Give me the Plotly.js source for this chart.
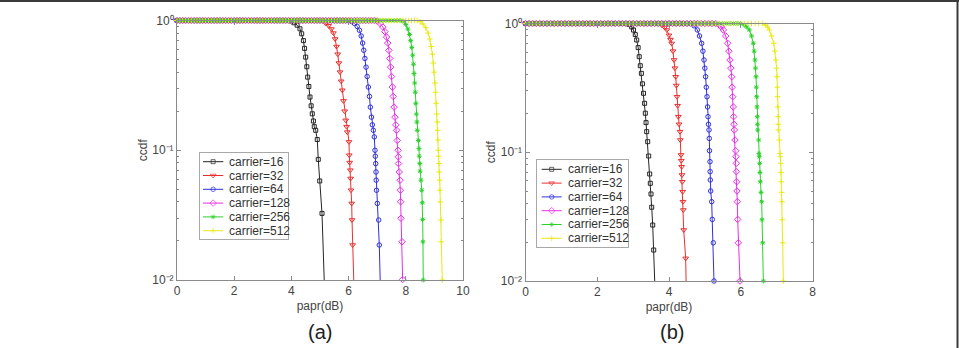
<!DOCTYPE html>
<html>
<head>
<meta charset="utf-8">
<script src="https://cdn.plot.ly/plotly-3.0.1.min.js"></script>
<style>
  html, body { margin: 0; padding: 0; background: #fff; }
  #chart { width: 959px; height: 348px; }
</style>
</head>
<body>
<div id="chart"></div>
<script>
// ---------- panel (a): CCDF of PAPR, papr in dB ----------
const a16x = [
  0,0.1,0.2,0.3,0.4,0.5,0.6,0.7,0.8,0.9,
  1,1.1,1.2,1.3,1.4,1.5,1.6,1.7,1.8,1.9,
  2,2.1,2.2,2.3,2.4,2.5,2.6,2.7,2.8,2.9,
  3,3.1,3.2,3.3,3.4,3.5,3.6,3.7,3.8,3.9,
  4.0,4.1,4.2,4.3,4.36,4.42,4.46,4.50,4.54,4.57,
  4.61,4.65,4.69,4.73,4.77,4.80,4.85,4.905,4.94,4.99,
  5.07,5.2];
const a16y = [
  1,1,1,1,1,1,1,1,1,1,
  1,1,1,1,1,1,1,1,1,1,
  1,1,1,1,1,1,1,1,1,1,
  1,1,1,1,1,1,1,1,1,1,
  0.99,0.96,0.92,0.863,0.79,0.70,0.61,0.522,0.44,0.366,
  0.31,0.257,0.22,0.191,0.168,0.152,0.1425,0.121,0.085,0.058,
  0.0326,0.0045];

const a32x = [
  0,0.1,0.2,0.3,0.4,0.5,0.6,0.7,0.8,0.9,
  1,1.1,1.2,1.3,1.4,1.5,1.6,1.7,1.8,1.9,
  2,2.1,2.2,2.3,2.4,2.5,2.6,2.7,2.8,2.9,
  3,3.1,3.2,3.3,3.4,3.5,3.6,3.7,3.8,3.9,
  4,4.1,4.2,4.3,4.4,4.5,4.6,4.7,4.8,4.9,
  5.0,5.1,5.2,5.3,5.4,5.47,5.53,5.58,5.62,5.66,
  5.70,5.74,5.78,5.82,5.86,5.90,5.93,5.955,6.014,6.024,
  6.038,6.06,6.07,6.084,6.108,6.12,6.14,6.22];
const a32y = [
  1,1,1,1,1,1,1,1,1,1,
  1,1,1,1,1,1,1,1,1,1,
  1,1,1,1,1,1,1,1,1,1,
  1,1,1,1,1,1,1,1,1,1,
  1,1,1,1,1,1,1,1,1,1,
  1,0.985,0.95,0.91,0.86,0.80,0.72,0.63,0.55,0.47,
  0.40,0.34,0.29,0.24,0.20,0.17,0.152,0.138,0.116,0.0916,
  0.0804,0.0702,0.0606,0.0492,0.0389,0.029,0.0186,0.005];

const a64x = [
  0,0.1,0.2,0.3,0.4,0.5,0.6,0.7,0.8,0.9,
  1,1.1,1.2,1.3,1.4,1.5,1.6,1.7,1.8,1.9,
  2,2.1,2.2,2.3,2.4,2.5,2.6,2.7,2.8,2.9,
  3,3.1,3.2,3.3,3.4,3.5,3.6,3.7,3.8,3.9,
  4,4.1,4.2,4.3,4.4,4.5,4.6,4.7,4.8,4.9,
  5,5.1,5.2,5.3,5.4,5.5,5.6,5.7,5.8,5.9,
  6.0,6.1,6.2,6.3,6.38,6.44,6.49,6.53,6.57,6.61,
  6.65,6.69,6.73,6.76,6.80,6.83,6.864,6.899,6.923,6.934,
  6.948,6.958,6.965,6.975,7.004,7.052,7.073,7.14];
const a64y = [
  1,1,1,1,1,1,1,1,1,1,
  1,1,1,1,1,1,1,1,1,1,
  1,1,1,1,1,1,1,1,1,1,
  1,1,1,1,1,1,1,1,1,1,
  1,1,1,1,1,1,1,1,1,1,
  1,1,1,1,1,1,1,1,1,1,
  1,0.985,0.95,0.90,0.84,0.76,0.67,0.59,0.51,0.437,
  0.37,0.307,0.26,0.215,0.18,0.157,0.1425,0.1267,0.1,0.09,
  0.0789,0.068,0.0588,0.0492,0.0389,0.029,0.0186,0.005];

const a128x = [
  0,0.1,0.2,0.3,0.4,0.5,0.6,0.7,0.8,0.9,
  1,1.1,1.2,1.3,1.4,1.5,1.6,1.7,1.8,1.9,
  2,2.1,2.2,2.3,2.4,2.5,2.6,2.7,2.8,2.9,
  3,3.1,3.2,3.3,3.4,3.5,3.6,3.7,3.8,3.9,
  4,4.1,4.2,4.3,4.4,4.5,4.6,4.7,4.8,4.9,
  5,5.1,5.2,5.3,5.4,5.5,5.6,5.7,5.8,5.9,
  6,6.1,6.2,6.3,6.4,6.5,6.6,6.7,6.8,6.9,
  7.0,7.1,7.2,7.27,7.33,7.37,7.41,7.44,7.47,7.50,
  7.53,7.56,7.59,7.62,7.65,7.68,7.70,7.73,7.74,7.745,
  7.77,7.80,7.81,7.82,7.83,7.87,7.89];
const a128y = [
  1,1,1,1,1,1,1,1,1,1,
  1,1,1,1,1,1,1,1,1,1,
  1,1,1,1,1,1,1,1,1,1,
  1,1,1,1,1,1,1,1,1,1,
  1,1,1,1,1,1,1,1,1,1,
  1,1,1,1,1,1,1,1,1,1,
  1,1,1,1,1,1,1,1,1,1,
  0.99,0.95,0.89,0.82,0.745,0.67,0.589,0.51,0.437,0.37,
  0.307,0.26,0.215,0.18,0.157,0.1425,0.119,0.1,0.089,0.079,
  0.068,0.0588,0.0492,0.0401,0.0299,0.0197,0.0101];

const a256x = [
  0,0.1,0.2,0.3,0.4,0.5,0.6,0.7,0.8,0.9,
  1,1.1,1.2,1.3,1.4,1.5,1.6,1.7,1.8,1.9,
  2,2.1,2.2,2.3,2.4,2.5,2.6,2.7,2.8,2.9,
  3,3.1,3.2,3.3,3.4,3.5,3.6,3.7,3.8,3.9,
  4,4.1,4.2,4.3,4.4,4.5,4.6,4.7,4.8,4.9,
  5,5.1,5.2,5.3,5.4,5.5,5.6,5.7,5.8,5.9,
  6,6.1,6.2,6.3,6.4,6.5,6.6,6.7,6.8,6.9,
  7,7.1,7.2,7.3,7.4,7.5,7.6,7.7,7.8,7.9,
  8.0,8.07,8.13,8.17,8.21,8.24,8.27,8.29,8.31,8.33,
  8.35,8.37,8.385,8.40,8.44,8.46,8.47,8.49,8.50,8.53,
  8.56,8.58,8.59,8.60,8.61];
const a256y = [
  1,1,1,1,1,1,1,1,1,1,
  1,1,1,1,1,1,1,1,1,1,
  1,1,1,1,1,1,1,1,1,1,
  1,1,1,1,1,1,1,1,1,1,
  1,1,1,1,1,1,1,1,1,1,
  1,1,1,1,1,1,1,1,1,1,
  1,1,1,1,1,1,1,1,1,1,
  1,1,1,1,1,1,1,1,1,0.985,
  0.93,0.86,0.78,0.70,0.62,0.54,0.46,0.39,0.33,0.28,
  0.23,0.19,0.165,0.1425,0.119,0.103,0.09,0.079,0.069,0.0588,
  0.0492,0.0394,0.0293,0.0197,0.01];

const a512x = [
  0,0.1,0.2,0.3,0.4,0.5,0.6,0.7,0.8,0.9,
  1,1.1,1.2,1.3,1.4,1.5,1.6,1.7,1.8,1.9,
  2,2.1,2.2,2.3,2.4,2.5,2.6,2.7,2.8,2.9,
  3,3.1,3.2,3.3,3.4,3.5,3.6,3.7,3.8,3.9,
  4,4.1,4.2,4.3,4.4,4.5,4.6,4.7,4.8,4.9,
  5,5.1,5.2,5.3,5.4,5.5,5.6,5.7,5.8,5.9,
  6,6.1,6.2,6.3,6.4,6.5,6.6,6.7,6.8,6.9,
  7,7.1,7.2,7.3,7.4,7.5,7.6,7.7,7.8,7.9,
  8,8.1,8.2,8.3,8.4,8.5,8.6,8.7,8.78,8.84,
  8.89,8.93,8.96,8.99,9.02,9.04,9.06,9.08,9.10,9.115,
  9.125,9.136,9.15,9.16,9.17,9.185,9.196,9.207,9.23,9.24,
  9.276];
const a512y = [
  1,1,1,1,1,1,1,1,1,1,
  1,1,1,1,1,1,1,1,1,1,
  1,1,1,1,1,1,1,1,1,1,
  1,1,1,1,1,1,1,1,1,1,
  1,1,1,1,1,1,1,1,1,1,
  1,1,1,1,1,1,1,1,1,1,
  1,1,1,1,1,1,1,1,1,1,
  1,1,1,1,1,1,1,1,1,1,
  1,1,1,1,1,0.98,0.94,0.88,0.80,0.72,
  0.63,0.55,0.47,0.40,0.33,0.28,0.23,0.19,0.165,0.1425,
  0.12,0.1,0.09,0.079,0.068,0.0588,0.0492,0.04,0.029,0.0197,
  0.01];

// ---------- panel (b) ----------
const b16x = [
  0,0.1,0.2,0.3,0.4,0.5,0.6,0.7,0.8,0.9,
  1,1.1,1.2,1.3,1.4,1.5,1.6,1.7,1.8,1.9,
  2,2.1,2.2,2.3,2.4,2.5,2.6,2.7,2.8,2.9,
  2.96,3.01,3.06,3.10,3.14,3.17,3.20,3.23,3.26,3.29,
  3.32,3.34,3.36,3.378,3.406,3.434,3.462,3.479,3.498,3.518,
  3.546,3.574,3.63];
const b16y = [
  1,1,1,1,1,1,1,1,1,1,
  1,1,1,1,1,1,1,1,1,1,
  1,1,1,1,1,1,1,1,1,0.98,
  0.94,0.89,0.82,0.744,0.65,0.552,0.47,0.41,0.34,0.287,
  0.24,0.201,0.17,0.1445,0.1208,0.0935,0.0678,0.0574,0.0474,0.0374,
  0.0272,0.0174,0.006];

const b32x = [
  0,0.1,0.2,0.3,0.4,0.5,0.6,0.7,0.8,0.9,
  1,1.1,1.2,1.3,1.4,1.5,1.6,1.7,1.8,1.9,
  2,2.1,2.2,2.3,2.4,2.5,2.6,2.7,2.8,2.9,
  3,3.1,3.2,3.3,3.4,3.5,3.6,3.7,3.8,3.88,
  3.94,4.0,4.04,4.075,4.11,4.14,4.165,4.187,4.205,4.223,
  4.24,4.26,4.28,4.307,4.315,4.334,4.343,4.354,4.362,4.37,
  4.38,4.39,4.40,4.41,4.465,4.49];
const b32y = [
  1,1,1,1,1,1,1,1,1,1,
  1,1,1,1,1,1,1,1,1,1,
  1,1,1,1,1,1,1,1,1,1,
  1,1,1,1,1,1,1,1,0.97,0.93,
  0.89,0.81,0.75,0.70,0.61,0.521,0.45,0.386,0.33,0.27,
  0.23,0.189,0.165,0.1445,0.1245,0.0953,0.086,0.0772,0.0666,0.059,
  0.0494,0.0413,0.0356,0.0249,0.015,0.006];

const b64x = [
  0,0.1,0.2,0.3,0.4,0.5,0.6,0.7,0.8,0.9,
  1,1.1,1.2,1.3,1.4,1.5,1.6,1.7,1.8,1.9,
  2,2.1,2.2,2.3,2.4,2.5,2.6,2.7,2.8,2.9,
  3,3.1,3.2,3.3,3.4,3.5,3.6,3.7,3.8,3.9,
  4,4.1,4.2,4.3,4.4,4.5,4.6,4.7,4.79,4.85,
  4.91,4.945,4.976,5.0,5.02,5.04,5.06,5.075,5.087,5.10,
  5.115,5.123,5.128,5.143,5.147,5.151,5.162,5.19,5.207,5.235,
  5.254];
const b64y = [
  1,1,1,1,1,1,1,1,1,1,
  1,1,1,1,1,1,1,1,1,1,
  1,1,1,1,1,1,1,1,1,1,
  1,1,1,1,1,1,1,1,1,1,
  1,1,1,1,1,1,1,0.96,0.891,0.80,
  0.702,0.61,0.521,0.45,0.386,0.32,0.27,0.225,0.189,0.165,
  0.149,0.128,0.1028,0.0845,0.0707,0.0609,0.05,0.0413,0.0301,0.0198,
  0.01];

const b128x = [
  0,0.1,0.2,0.3,0.4,0.5,0.6,0.7,0.8,0.9,
  1,1.1,1.2,1.3,1.4,1.5,1.6,1.7,1.8,1.9,
  2,2.1,2.2,2.3,2.4,2.5,2.6,2.7,2.8,2.9,
  3,3.1,3.2,3.3,3.4,3.5,3.6,3.7,3.8,3.9,
  4,4.1,4.2,4.3,4.4,4.5,4.6,4.7,4.8,4.9,
  5,5.1,5.2,5.3,5.4,5.46,5.514,5.58,5.636,5.67,
  5.70,5.725,5.747,5.76,5.775,5.79,5.80,5.81,5.82,5.84,
  5.86,5.867,5.876,5.88,5.887,5.895,5.904,5.915,5.932,5.98];
const b128y = [
  1,1,1,1,1,1,1,1,1,1,
  1,1,1,1,1,1,1,1,1,1,
  1,1,1,1,1,1,1,1,1,1,
  1,1,1,1,1,1,1,1,1,1,
  1,1,1,1,1,1,1,1,1,1,
  1,1,1,1,0.97,0.94,0.891,0.80,0.702,0.61,
  0.521,0.45,0.386,0.32,0.27,0.225,0.189,0.165,0.149,0.1245,
  0.1028,0.0923,0.082,0.0707,0.059,0.05,0.0413,0.0301,0.0198,0.01];

const b256x = [
  0,0.1,0.2,0.3,0.4,0.5,0.6,0.7,0.8,0.9,
  1,1.1,1.2,1.3,1.4,1.5,1.6,1.7,1.8,1.9,
  2,2.1,2.2,2.3,2.4,2.5,2.6,2.7,2.8,2.9,
  3,3.1,3.2,3.3,3.4,3.5,3.6,3.7,3.8,3.9,
  4,4.1,4.2,4.3,4.4,4.5,4.6,4.7,4.8,4.9,
  5,5.1,5.2,5.3,5.4,5.5,5.6,5.7,5.8,5.9,
  6.0,6.1,6.17,6.24,6.30,6.35,6.375,6.397,6.41,6.425,
  6.435,6.445,6.452,6.46,6.466,6.472,6.50,6.509,6.517,6.528,
  6.536,6.545,6.565,6.584,6.592,6.612,6.63];
const b256y = [
  1,1,1,1,1,1,1,1,1,1,
  1,1,1,1,1,1,1,1,1,1,
  1,1,1,1,1,1,1,1,1,1,
  1,1,1,1,1,1,1,1,1,1,
  1,1,1,1,1,1,1,1,1,1,
  1,1,1,1,1,1,1,1,1,1,
  1,0.97,0.94,0.891,0.80,0.702,0.61,0.521,0.45,0.386,
  0.32,0.27,0.225,0.189,0.165,0.149,0.1245,0.098,0.0923,0.082,
  0.0697,0.059,0.0488,0.0413,0.0299,0.0198,0.01];

const b512x = [
  0,0.1,0.2,0.3,0.4,0.5,0.6,0.7,0.8,0.9,
  1,1.1,1.2,1.3,1.4,1.5,1.6,1.7,1.8,1.9,
  2,2.1,2.2,2.3,2.4,2.5,2.6,2.7,2.8,2.9,
  3,3.1,3.2,3.3,3.4,3.5,3.6,3.7,3.8,3.9,
  4,4.1,4.2,4.3,4.4,4.5,4.6,4.7,4.8,4.9,
  5,5.1,5.2,5.3,5.4,5.5,5.6,5.7,5.8,5.9,
  6,6.1,6.2,6.3,6.4,6.5,6.6,6.7,6.75,6.80,
  6.86,6.92,6.95,6.98,7.0,7.01,7.02,7.025,7.032,7.04,
  7.044,7.047,7.075,7.094,7.103,7.114,7.122,7.13,7.141,7.15,
  7.158,7.169,7.186];
const b512y = [
  1,1,1,1,1,1,1,1,1,1,
  1,1,1,1,1,1,1,1,1,1,
  1,1,1,1,1,1,1,1,1,1,
  1,1,1,1,1,1,1,1,1,1,
  1,1,1,1,1,1,1,1,1,1,
  1,1,1,1,1,1,1,1,1,1,
  1,1,1,1,1,1,1,0.97,0.94,0.891,
  0.80,0.702,0.61,0.521,0.45,0.386,0.32,0.27,0.225,0.189,
  0.165,0.149,0.1245,0.098,0.0923,0.082,0.0697,0.059,0.0488,0.0413,
  0.0299,0.0198,0.01];

const seriesNames = ['carrier=16','carrier=32','carrier=64','carrier=128','carrier=256','carrier=512'];
const panelA = [[a16x,a16y],[a32x,a32y],[a64x,a64y],[a128x,a128y],[a256x,a256y],[a512x,a512y]];
const panelB = [[b16x,b16y],[b32x,b32y],[b64x,b64y],[b128x,b128y],[b256x,b256y],[b512x,b512y]];
const yTickVals = [0.01, 0.1, 1];
const yTickText = ['10\u207B\u00B2', '10\u207B\u00B9', '10\u2070'];
const yMinorVals = [0.02,0.03,0.04,0.05,0.06,0.07,0.08,0.09,0.2,0.3,0.4,0.5,0.6,0.7,0.8,0.9];

// ---------- styling ----------
const lineColors = ['#262626','#e8302f','#3030dc','#e530e5','#2cd12c','#e8e816'];
const symbols = ['square-open','triangle-down-open','circle-open','diamond-open','asterisk-open','cross-thin-open'];
const symSizes = [4, 5, 4.5, 5, 4, 4];
const FONT = 'Liberation Sans, Arial, Helvetica, sans-serif';
const AXIS_GREY = '#8a8a8a';
const TEXT_GREY = '#444';
const W = 959, H = 348;

const traces = [];
function addPanel(panel, xa, ya) {
  panel.forEach(([xs, ys], i) => {
    traces.push({
      type: 'scatter', mode: 'lines+markers', x: xs, y: ys,
      xaxis: xa, yaxis: ya, cliponaxis: false,
      line: { color: lineColors[i], width: 1 },
      marker: { symbol: symbols[i], size: symSizes[i], color: lineColors[i], line: { color: lineColors[i], width: 1 } },
      hoverinfo: 'skip', showlegend: false
    });
  });
}
addPanel(panelA, 'x', 'y');
addPanel(panelB, 'x2', 'y2');

// in-plot legend boxes: each sits on its own small axes whose units are pixels inside the box
const legendBoxes = [
  { xa: 'x3', ya: 'y3', left: 199.5, topPx: 152.7, lineFrom: 3.5, lineTo: 23.8, textAt: 27.2, first: 9, step: 13.8 },
  { xa: 'x4', ya: 'y4', left: 537, topPx: 160, lineFrom: 4.7, lineTo: 24.7, textAt: 29, first: 9.3, step: 13.8 }
];
const annotations = [];
legendBoxes.forEach(box => {
  seriesNames.forEach((nm, i) => {
    const yy = box.first + box.step * i;
    const mid = (box.lineFrom + box.lineTo) / 2;
    traces.push({
      type: 'scatter', mode: 'lines+markers',
      x: [box.lineFrom, mid, box.lineTo], y: [yy, yy, yy],
      xaxis: box.xa, yaxis: box.ya, cliponaxis: false, hoverinfo: 'skip', showlegend: false,
      line: { color: lineColors[i], width: 1 },
      marker: { symbol: symbols[i], size: [0, symSizes[i], 0], color: lineColors[i], line: { color: lineColors[i], width: 1 } }
    });
    annotations.push({
      xref: 'paper', yref: 'paper',
      x: (box.left + box.textAt) / W, y: 1 - (box.topPx + yy) / H,
      text: nm, showarrow: false, xanchor: 'left', yanchor: 'middle',
      font: { family: FONT, size: 12, color: '#333' }
    });
  });
});

annotations.push(
  { xref: 'paper', yref: 'paper', x: 320 / W, y: 1 - 331.7 / H, text: '(a)', showarrow: false,
    xanchor: 'center', yanchor: 'middle', font: { family: FONT, size: 20, color: '#222' } },
  { xref: 'paper', yref: 'paper', x: 671.7 / W, y: 1 - 331.7 / H, text: '(b)', showarrow: false,
    xanchor: 'center', yanchor: 'middle', font: { family: FONT, size: 20, color: '#222' } }
);

function xAxis(domain, anchor, maxX) {
  return {
    domain, anchor, range: [0, maxX], tick0: 0, dtick: 2,
    ticks: 'inside', ticklen: 4, tickcolor: AXIS_GREY, tickwidth: 1,
    showline: true, linecolor: AXIS_GREY, linewidth: 1, mirror: 'ticks',
    showgrid: false, zeroline: false, fixedrange: true,
    tickfont: { family: FONT, size: 12, color: TEXT_GREY },
    title: { text: 'papr(dB)', font: { family: FONT, size: 12, color: TEXT_GREY }, standoff: 4 }
  };
}
function yAxis(domain, anchor) {
  return {
    domain, anchor, type: 'log', range: [-2, 0],
    tickmode: 'array', tickvals: yTickVals, ticktext: yTickText,
    ticks: 'inside', ticklen: 4, tickcolor: AXIS_GREY, tickwidth: 1,
    minor: { tickmode: 'array', tickvals: yMinorVals, ticks: 'inside', ticklen: 2, tickcolor: AXIS_GREY, showgrid: false },
    showline: true, linecolor: AXIS_GREY, linewidth: 1, mirror: 'ticks',
    showgrid: false, zeroline: false, fixedrange: true,
    tickfont: { family: FONT, size: 12, color: TEXT_GREY },
    title: { text: 'ccdf', font: { family: FONT, size: 12, color: TEXT_GREY }, standoff: 2 }
  };
}
function boxAxis(domain, anchor, range) {
  return {
    domain, anchor, range, showline: true, mirror: true, linecolor: '#a8a8a8', linewidth: 1,
    showgrid: false, zeroline: false, showticklabels: false, ticks: '', fixedrange: true
  };
}

const layout = {
  width: W, height: H,
  margin: { l: 0, r: 0, t: 0, b: 0, pad: 0 },
  paper_bgcolor: '#fff', plot_bgcolor: 'rgba(0,0,0,0)',
  showlegend: false,
  font: { family: FONT, color: TEXT_GREY },
  xaxis: xAxis([177 / W, 463 / W], 'y', 10),
  yaxis: yAxis([1 - 280 / H, 1 - 20.5 / H], 'x'),
  xaxis2: xAxis([525.5 / W, 812.5 / W], 'y2', 8),
  yaxis2: yAxis([1 - 281 / H, 1 - 23.5 / H], 'x2'),
  xaxis3: boxAxis([199.5 / W, 287.5 / W], 'y3', [0, 88]),
  yaxis3: boxAxis([1 - 239.3 / H, 1 - 152.7 / H], 'x3', [86.6, 0]),
  xaxis4: boxAxis([537 / W, 627.5 / W], 'y4', [0, 90.5]),
  yaxis4: boxAxis([1 - 246.7 / H, 1 - 160 / H], 'x4', [86.7, 0]),
  annotations,
  shapes: [
    { type: 'line', xref: 'paper', yref: 'paper', x0: 0, x1: 1, y0: 1 - 1 / H, y1: 1 - 1 / H, line: { color: '#3a3a3a', width: 2 } },
    { type: 'line', xref: 'paper', yref: 'paper', x0: 1 - 1.5 / W, x1: 1 - 1.5 / W, y0: 0, y1: 1, line: { color: '#3a3a3a', width: 2 } }
  ]
};

Plotly.newPlot('chart', traces, layout, { staticPlot: true, displayModeBar: false });
</script>
</body>
</html>
